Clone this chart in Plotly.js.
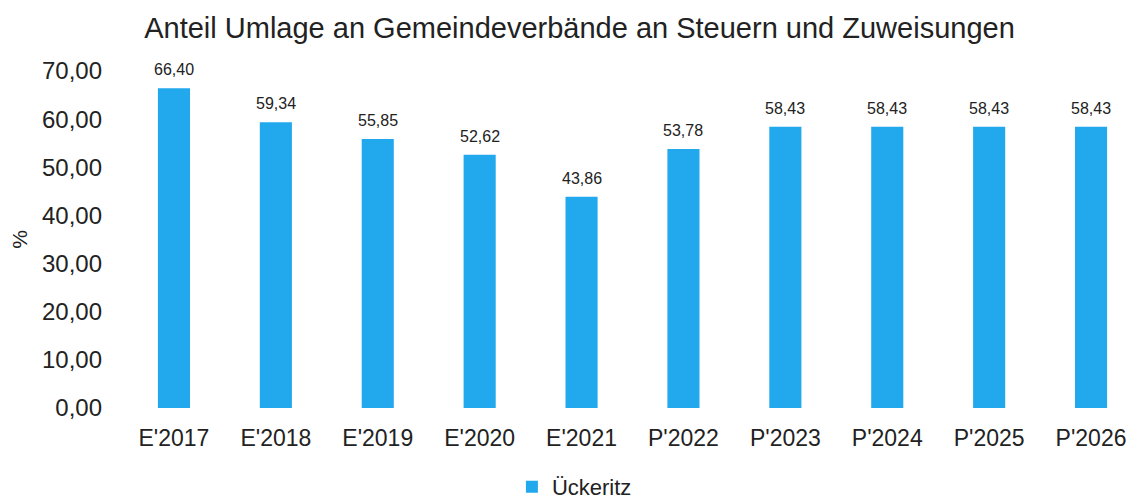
<!DOCTYPE html>
<html>
<head>
<meta charset="utf-8">
<script src="https://cdn.plot.ly/plotly-3.0.1.min.js"></script>
<style>html,body{margin:0;padding:0;background:#fff;}#chart{width:1143px;height:502px;}</style>
</head>
<body>
<div id="chart"></div>
<script>
const categories = ["E'2017","E'2018","E'2019","E'2020","E'2021","P'2022","P'2023","P'2024","P'2025","P'2026"];
const values = [66.40, 59.34, 55.85, 52.62, 43.86, 53.78, 58.43, 58.43, 58.43, 58.43];
const seriesName = "Ückeritz";
const tickVals = [0,10,20,30,40,50,60,70];

const fmt = v => v.toFixed(2).replace('.', ',');
const FONT = 'Liberation Sans, Arial, sans-serif';

const trace = {
  type: 'bar',
  x: categories,
  y: values,
  name: seriesName,
  marker: {color: '#22a8ec'},
  showlegend: true,
  hoverinfo: 'skip'
};

const annotations = categories.map((c, i) => ({
  x: c, y: values[i], xref: 'x', yref: 'y',
  text: fmt(values[i]), showarrow: false,
  yanchor: 'bottom', yshift: 8,
  font: {family: FONT, size: 16, color: '#222'}
}));

const layout = {
  width: 1143, height: 502,
  paper_bgcolor: '#fff', plot_bgcolor: '#fff',
  margin: {l: 123, r: 1, t: 71, b: 94},
  separators: ',.',
  title: {
    text: 'Anteil Umlage an Gemeindeverbände an Steuern und Zuweisungen',
    x: 0.507, xref: 'container', xanchor: 'center',
    y: 0.945, yref: 'container', yanchor: 'middle',
    font: {family: FONT, size: 29, color: '#222'}
  },
  bargap: 0.685,
  xaxis: {
    type: 'category', automargin: false,
    tickfont: {family: FONT, size: 23, color: '#222'},
    showline: false, showgrid: false, zeroline: false, ticks: '',
    ticklabelstandoff: 14
  },
  yaxis: {
    range: [0, 70], automargin: false,
    tickvals: tickVals,
    tickformat: '.2f',
    tickfont: {family: FONT, size: 24, color: '#222'},
    showgrid: false, zeroline: false, showline: false, ticks: '',
    ticklabelstandoff: 20,
    title: {text: '%', font: {family: FONT, size: 21, color: '#222'}, standoff: 8}
  },
  legend: {
    orientation: 'h', x: 0.443, xanchor: 'center',
    yref: 'container', y: 0.03, yanchor: 'middle',
    font: {family: FONT, size: 22, color: '#222'},
    itemwidth: 30
  },
  annotations: annotations
};

Plotly.newPlot('chart', [trace], layout, {displayModeBar: false, staticPlot: true});
</script>
</body>
</html>
